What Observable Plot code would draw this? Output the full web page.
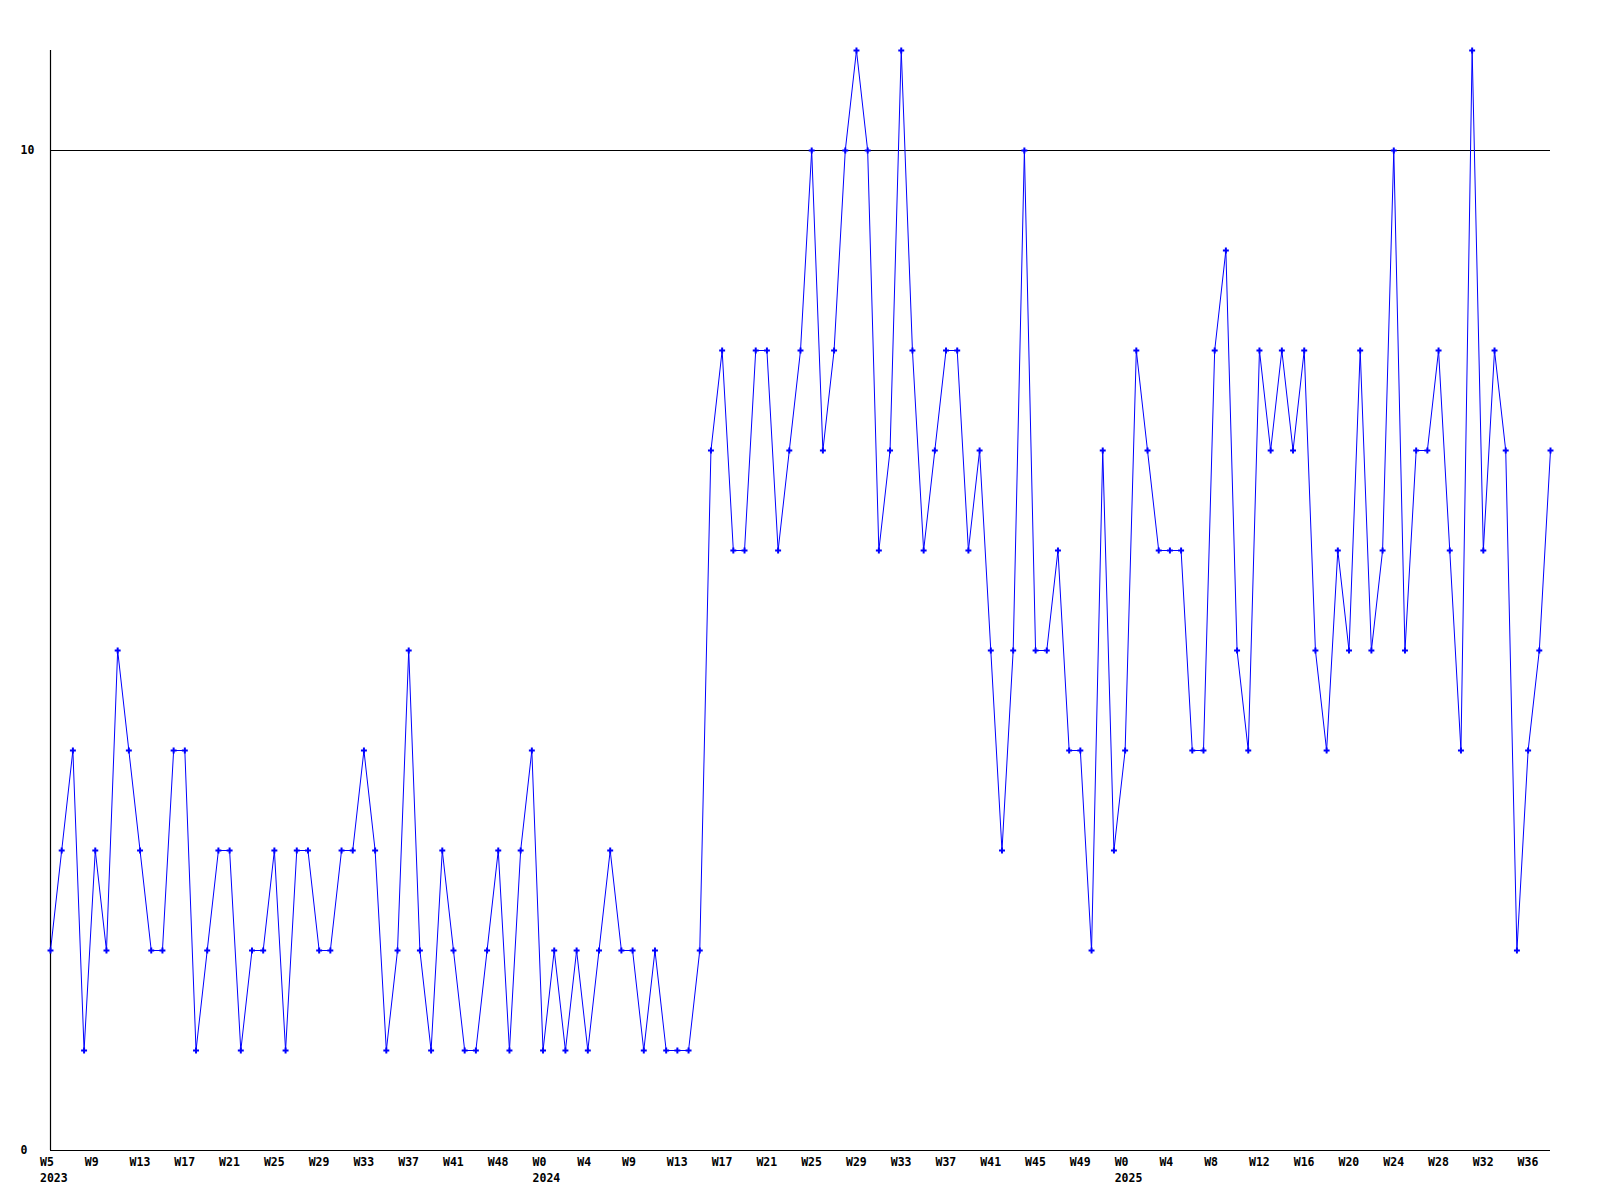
<!DOCTYPE html>
<html>
<head>
<meta charset="utf-8">
<script src="https://cdn.jsdelivr.net/npm/d3@7"></script>
<script src="https://cdn.jsdelivr.net/npm/@observablehq/plot@0.6"></script>
<style>
  html, body { margin: 0; padding: 0; background: #ffffff; }
  #chart svg { display: block; }
</style>
</head>
<body>
<div id="chart"></div>
<script>
// Weekly values, one per point (index 0 = W5 2023)
const values = [
  2,3,4,1,3,2,5,4,3,2,
  2,4,4,1,2,3,3,1,2,2,
  3,1,3,3,2,2,3,3,4,3,
  1,2,5,2,1,3,2,1,1,2,
  3,1,3,4,1,2,1,2,1,2,
  3,2,2,1,2,1,1,1,2,7,
  8,6,6,8,8,6,7,8,10,7,
  8,10,11,10,6,7,11,8,6,7,
  8,8,6,7,5,3,5,10,5,5,
  6,4,4,2,7,3,4,8,7,6,
  6,6,4,4,8,9,5,4,8,7,
  8,7,8,5,4,6,5,8,5,6,
  10,5,7,7,8,6,4,11,6,8,
  7,2,4,5,7
];

// Tick labels, one every 4 points
const tickLabels = [
  "W5","W9","W13","W17","W21","W25","W29","W33","W37","W41","W48",
  "W0","W4","W9","W13","W17","W21","W25","W29","W33","W37","W41","W45","W49",
  "W0","W4","W8","W12","W16","W20","W24","W28","W32","W36"
];
const tickStep = 4;

// Year labels under the first tick of each year
const yearLabels = ["2023","2024","2025"];
const yearTickIndex = [0, 11, 24];

const yTickValues = [0, 10];

const data = values.map((v, i) => ({i, v}));
const ticks = tickLabels.map((t, k) => ({i: k * tickStep, t}));
const years = yearLabels.map((y, k) => ({i: yearTickIndex[k] * tickStep, y}));

const blue = "#0000ff";

const chart = Plot.plot({
  width: 1600,
  height: 1200,
  marginLeft: 50,
  marginRight: 50,
  marginTop: 50,
  marginBottom: 50,
  style: {
    fontFamily: "'DejaVu Sans Mono', monospace",
    fontSize: "11.5px",
    fontWeight: "bold",
    background: "#ffffff",
    color: "#000000"
  },
  x: {domain: [0, values.length - 1], axis: null},
  y: {domain: [0, 11], axis: null},
  marks: [
    Plot.ruleY([10], {stroke: "#000", strokeWidth: 1}),
    Plot.ruleY([0], {stroke: "#000", strokeWidth: 1.2}),
    Plot.ruleX([0], {stroke: "#000", strokeWidth: 1.2}),
    Plot.line(data, {x: "i", y: "v", stroke: blue, strokeWidth: 1}),
    Plot.dot(data, {x: "i", y: "v", symbol: "cross", fill: blue, r: 2.5}),
    Plot.text(yTickValues, {y: d => d, text: d => String(d), frameAnchor: "left", textAnchor: "start", dx: -30, fill: "#000"}),
    Plot.text(ticks, {x: "i", text: "t", frameAnchor: "bottom", textAnchor: "start", dx: -10.5, dy: 15, fill: "#000"}),
    Plot.text(years, {x: "i", text: "y", frameAnchor: "bottom", textAnchor: "start", dx: -10.5, dy: 31.5, fill: "#000"})
  ]
});
document.getElementById("chart").appendChild(chart);
</script>
</body>
</html>
